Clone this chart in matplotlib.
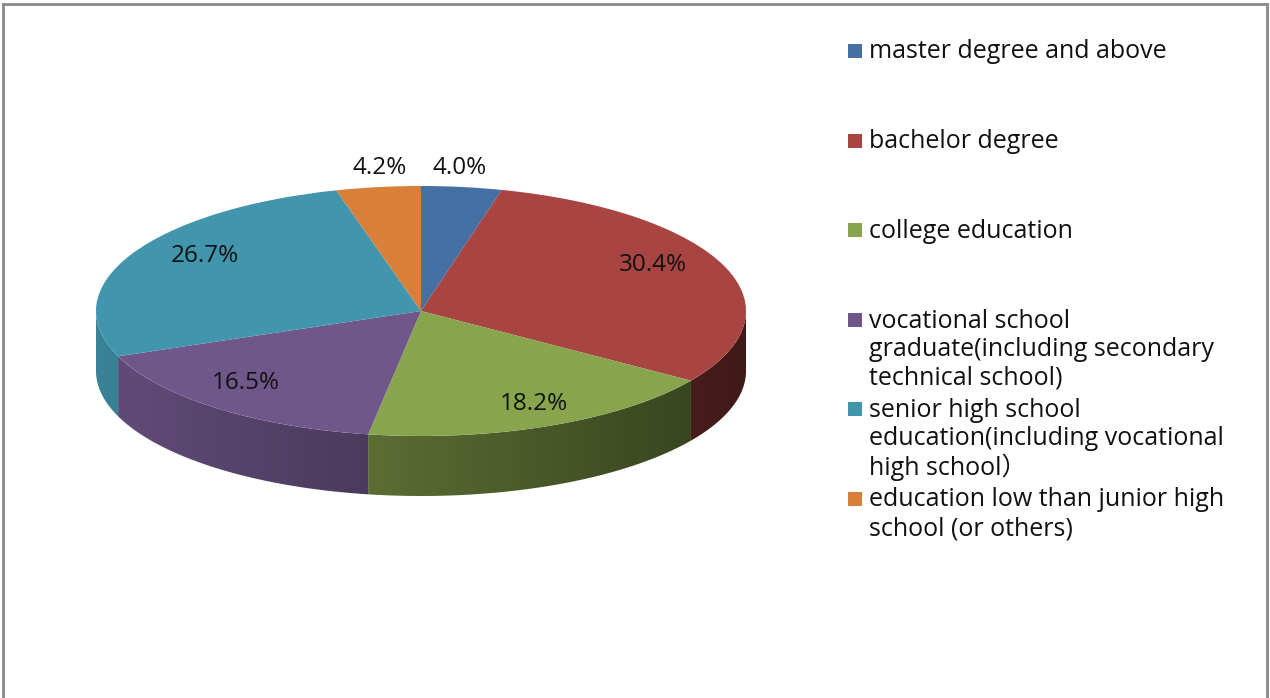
import numpy as np
import matplotlib.pyplot as plt
from matplotlib.patches import Polygon, Rectangle
from matplotlib.lines import Line2D
from matplotlib.colors import to_rgb

plt.rcParams['font.family'] = ['Open Sans', 'Noto Sans CJK SC', 'DejaVu Sans']

# data
categories = [
    "master degree and above",
    "bachelor degree",
    "college education",
    "vocational school\ngraduate(including secondary\ntechnical school)",
    "senior high school\neducation(including vocational\nhigh school\uff09",
    "education low than junior high\nschool (or others)",
]
shares = [4.0, 30.4, 18.2, 16.5, 26.7, 4.2]
colors = ["#4470A3", "#A84442", "#88A44C", "#6F578A", "#4195AC", "#D8803A"]

W, H = 1270, 698
fig = plt.figure(figsize=(W / 100, H / 100), dpi=100)

# pie geometry (pixels)
cx, cy, a, b = 421, 311, 325, 125
depth = 0.48  # side height in units of b
xl, yl = (-1.1, 1.1), (-1.7, 1.15)
ax = fig.add_axes([(cx + xl[0] * a) / W, 1 - (cy - yl[0] * b) / H,
                   (xl[1] - xl[0]) * a / W, (yl[1] - yl[0]) * b / H])

wedges, _ = ax.pie(shares, colors=colors, startangle=90, counterclock=False,
                   radius=1, wedgeprops=dict(linewidth=0, zorder=5))
ax.set_aspect('auto')
ax.axis('off')


def shade(c, x):
    f = np.clip(0.63 - 0.25 * x, 0.3, 1.0)
    return np.array(to_rgb(c))[None, :] * f[:, None]


# side walls on the lower half of the rim, shaded left to right
gx = np.linspace(-1, 1, 400)
for w, c in zip(wedges, colors):
    lo = w.theta1 % 360
    hi = lo + (w.theta2 - w.theta1)
    for base in (0, 360):
        s, e = max(lo, 180 + base), min(hi, 360 + base)
        if e <= s:
            continue
        tt = np.radians(np.linspace(s, e, 100))
        xs, ys = np.cos(tt), np.sin(tt)
        pts = np.concatenate([np.column_stack([xs, ys]),
                              np.column_stack([xs[::-1], ys[::-1] - depth])])
        poly = Polygon(pts, closed=True, facecolor='none', edgecolor='none')
        ax.add_patch(poly)
        img = ax.imshow(shade(c, gx)[None, :, :], extent=(-1, 1, -1 - depth, 0.2),
                        aspect='auto', interpolation='bilinear', zorder=2)
        img.set_clip_path(poly)

ax.set_xlim(*xl)
ax.set_ylim(*yl)

# percentage labels
label_pos = [(0.12, 1.144), (0.714, 0.368), (0.348, -0.744),
             (-0.538, -0.576), (-0.665, 0.44), (-0.126, 1.144)]
for (lx, ly), v in zip(label_pos, shares):
    ax.text(lx, ly, f"{v:.1f}%", ha='center', va='center', fontsize=17.5,
            color='#111111', zorder=10)

# legend
leg_y = [51, 141, 230, 320, 409, 499]
for y, lab, c in zip(leg_y, categories, colors):
    fig.add_artist(Rectangle((848 / W, 1 - (y + 7) / H), 14 / W, 14 / H,
                             transform=fig.transFigure, facecolor=c, edgecolor='none'))
    for i, line in enumerate(lab.split("\n")):
        fig.text(869 / W, 1 - (y + 1 + i * 28.5) / H, line, ha='left', va='center',
                 fontsize=18, color='#111111')

# frame
frame_kw = dict(transform=fig.transFigure, color='#8a8a8a', linewidth=2)
fig.add_artist(Line2D([3 / W, 1267 / W], [1 - 4 / H, 1 - 4 / H], **frame_kw))
fig.add_artist(Line2D([3 / W, 3 / W], [0, 1 - 4 / H], **frame_kw))
fig.add_artist(Line2D([1267 / W, 1267 / W], [0, 1 - 4 / H], **frame_kw))

fig.savefig("out.png", dpi=100)
